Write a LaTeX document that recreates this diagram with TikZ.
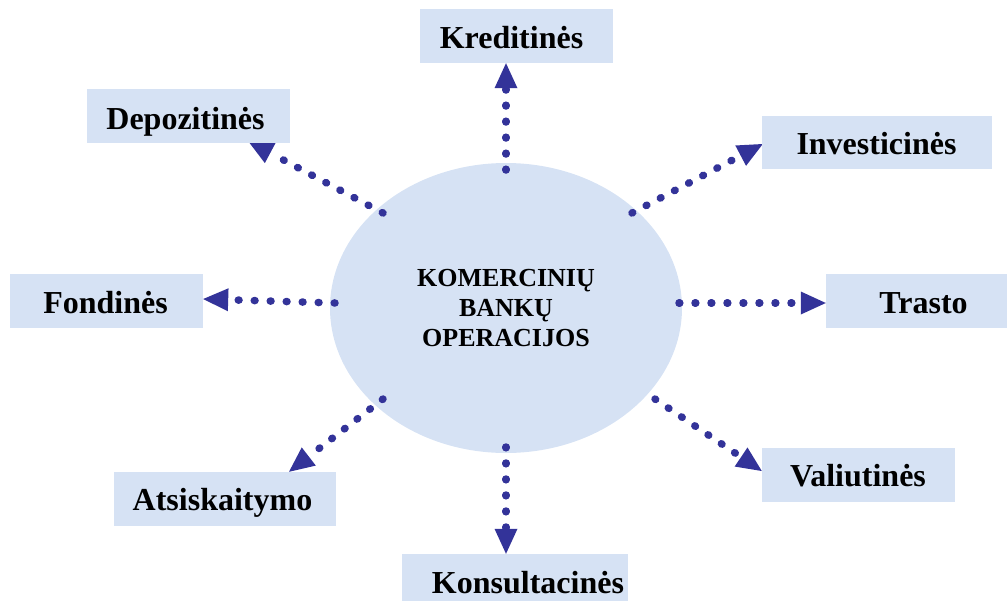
\documentclass[tikz,border=0pt]{standalone}
\usepackage{fontspec}
\setmainfont{Liberation Serif}
\usetikzlibrary{shapes.geometric,arrows.meta,calc}
\definecolor{paleblue}{RGB}{214,226,244}
\definecolor{linkblue}{RGB}{51,51,153}
\tikzset{
  hub/.style={ellipse, fill=paleblue, inner sep=0pt,
    minimum width=352pt, minimum height=290pt, align=center,
    font=\fontsize{26}{30}\selectfont\bfseries},
  opbox/.style={rectangle, fill=paleblue, inner sep=0pt},
  oplabel/.style={anchor=base, inner sep=0pt,
    font=\fontsize{32}{38}\selectfont\bfseries},
  link/.style={draw=linkblue, line width=7.5pt, line cap=round,
    dash pattern=on 0.8pt off 15.2pt,
    -{Triangle[length=25pt,width=23pt,line width=0pt,color=linkblue]}}
}
\begin{document}
\begin{tikzpicture}[x=1pt,y=-1pt]
\useasboundingbox (0,0) rectangle (1007,600);
\clip (0,0) rectangle (1007,600);

% central ellipse
\node[hub] (ops) at (506,308) {KOMERCINIŲ\\BANKŲ\\OPERACIJOS};

% operation boxes (positions only; labels are set separately)
\node[opbox, minimum width=193pt, minimum height=54pt] (kre) at (516.5,36)  {};
\node[opbox, minimum width=203pt, minimum height=54pt] (dep) at (188.5,116) {};
\node[opbox, minimum width=230pt, minimum height=53pt] (inv) at (877,142.5) {};
\node[opbox, minimum width=193pt, minimum height=54pt] (fon) at (106.5,301) {};
\node[opbox, minimum width=184pt, minimum height=54pt] (tra) at (918,301)   {};
\node[opbox, minimum width=222pt, minimum height=54pt] (ats) at (225,499)   {};
\node[opbox, minimum width=193pt, minimum height=54pt] (val) at (858.5,475) {};
\node[opbox, minimum width=226pt, minimum height=54pt] (kon) at (515,581)   {};

% dotted connectors
\draw[link] ($(ops.center)+(0,-138)$)   -- ($(kre.south)+(-10.5,0)$);
\draw[link] ($(ops.center)+(-123,-95)$) -- ($(dep.south east)+(-42,-2)$);
\draw[link] ($(ops.center)+(126,-95)$)  -- ($(inv.west)+(1,1.5)$);
\draw[link] ($(ops.center)+(-171,-5)$)  -- ($(fon.east)+(0,-2)$);
\draw[link] ($(ops.center)+(173,-5)$)   -- ($(tra.west)+(0,2)$);
\draw[link] ($(ops.center)+(-123,91)$)  -- ($(ats.north)+(64,0)$);
\draw[link] ($(ops.center)+(149,91)$)   -- ($(val.west)+(0,-4)$);
\draw[link] ($(ops.center)+(0,139)$)    -- ($(kon.north)+(-9,0)$);

% boxes repainted over the arrow tips
\foreach \b in {kre,dep,inv,fon,tra,ats,val,kon}
  \fill[paleblue] (\b.north west) rectangle (\b.south east);

% labels
\node[oplabel] (kre-t) at (511.5,48.3)  {Kreditinės};
\node[oplabel] (dep-t) at (185.5,129.3) {Depozitinės};
\node[oplabel] (inv-t) at (876.5,154.3) {Investicinės};
\node[oplabel] (fon-t) at (105.5,313.3) {Fondinės};
\node[oplabel] (tra-t) at (923.5,313.3) {Trasto};
\node[oplabel] (ats-t) at (222.5,510)   {Atsiskaitymo};
\node[oplabel] (val-t) at (858,486.7)   {Valiutinės};
\node[oplabel] (kon-t) at (528,593.3)   {Konsultacinės};
\end{tikzpicture}
\end{document}
